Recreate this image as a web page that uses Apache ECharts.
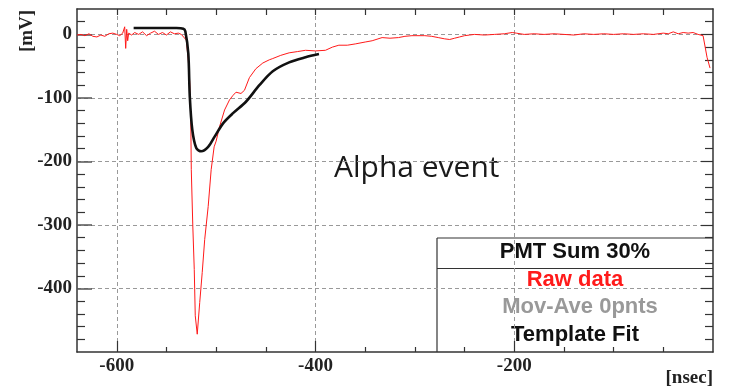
<!DOCTYPE html>
<html><head><meta charset="utf-8">
<script src="https://cdn.jsdelivr.net/npm/echarts@6/dist/echarts.min.js"></script>
<style>html,body{margin:0;padding:0;background:#fff}#c{width:730px;height:389px}</style>
</head><body><div id="c"></div>
<script>
// ---- data (time in nsec, amplitude in mV) ----
const rawX = [-640,-636,-632,-628,-624,-620,-616,-612,-608,-604,-600,-597,-594,-592,-591,-590,-589,-588,-585,-582,-578,-574,-570,-566,-562,-558,-554,-550,-546,-542,-538,-535,-533,-530,-528,-526.5,-525.5,-525,-523.5,-522,-521,-519,-516.5,-514,-511.5,-508,-505,-502,-500,-496.5,-491.5,-486.5,-483,-480,-475,-471.5,-466.5,-460,-453,-446.5,-443,-435,-426.5,-418,-410,-400,-390,-383,-376.5,-368,-360,-350,-343,-333,-325,-316.5,-310,-303,-290,-283,-276.5,-270,-265,-260,-255,-250,-245,-240,-230,-220,-210,-202,-198,-190,-180,-170,-160,-150,-140,-130,-120,-110,-100,-90,-80,-70,-60,-50,-45,-40,-35,-30,-25,-20,-15,-10,-6,-3,-2,-1];
const rawY = [-1,0,-2,1,-3,-4,-1,-3,1,2,0,-2,2,12,-22,8,-10,2,-1,3,0,4,-2,2,5,0,3,-1,4,1,2,0,1,-9,-41,-77,-135,-213,-300,-370,-443,-472,-422,-375,-323,-271,-213,-177,-168,-145,-119,-103,-96,-91,-93,-88,-68,-54,-45,-40,-38,-33,-29,-27,-25,-26,-25,-20,-17,-17,-15,-12,-10,-5,-6,-5,-3,-2,-2,-3,-5,-7,-8,-6,-4,-2,-1,0,-1,0,1,3,2,0,1,0,1,0,-1,1,0,1,0,1,0,1,0,2,1,4,1,3,2,3,0,-2,-36,-53];
const fitX = [-583,-560,-540,-533,-531,-528,-526.5,-524,-520,-515,-508,-501.5,-493,-483,-470,-456.5,-443,-426.5,-410,-396.5];
const fitY = [10,10,10,9,5,-30,-98,-150,-179,-184,-177,-161,-140,-124,-106,-80,-58,-44,-36,-31];
const xMajor = [-600,-400,-200];
const xMinor = [-550,-500,-450,-350,-300,-250,-150,-100,-50];
const yMajor = [-400,-300,-200,-100,0];
const yMinor = [-480,-460,-440,-420,-380,-360,-340,-320,-280,-260,-240,-220,-180,-160,-140,-120,-80,-60,-40,-20,20];
const legendTitle = 'PMT Sum 30%';
const legendItems = ['Raw data','Mov-Ave 0pnts','Template Fit'];
const xName = '[nsec]', yName = '[mV]', note = 'Alpha event';

const rawData = rawX.map((x,i)=>[x,rawY[i]]);
const fitData = fitX.map((x,i)=>[x,fitY[i]]);

const labelFont = {fontFamily:'Liberation Serif',fontWeight:'bold',fontSize:19,color:'#222'};
const lineCol = '#333';
const gridDash = {show:true,lineStyle:{color:'#999',type:[4,3],width:1}};
const gridRect = {left:77,right:17,top:9,bottom:37,containLabel:false};
function ax(base){return Object.assign({type:'value',min:-640,max:0},base);}
function ay(base){return Object.assign({type:'value',min:-500,max:40},base);}
function ticks(vals,len){return {show:true,inside:true,length:len,customValues:vals,lineStyle:{color:lineCol,width:1.2}};}
const noLine = {show:false,onZero:false}, noLab = {show:false}, noSplit = {show:false};
const frameLine = {show:true,onZero:false,lineStyle:{color:lineCol,width:1.5}};

const chart = echarts.init(document.getElementById('c'),null,{renderer:'canvas'});
chart.setOption({
  animation:false,
  backgroundColor:'#fff',
  grid:[Object.assign({},gridRect),Object.assign({},gridRect)],
  xAxis:[
    ax({gridIndex:0,position:'bottom',axisLine:frameLine,axisTick:ticks(xMajor,11),
      axisLabel:Object.assign({show:true,customValues:xMajor,margin:5},labelFont),splitLine:gridDash}),
    ax({gridIndex:0,position:'top',axisLine:frameLine,axisTick:ticks(xMajor.concat(xMinor),6),axisLabel:noLab,splitLine:noSplit}),
    ax({gridIndex:1,position:'bottom',axisLine:noLine,axisTick:ticks(xMinor,5),axisLabel:noLab,splitLine:noSplit})
  ],
  yAxis:[
    ay({gridIndex:0,position:'left',axisLine:frameLine,
      axisTick:{show:true,inside:true,length:15,customValues:yMajor,lineStyle:{color:'#555',width:1.5}},
      axisLabel:Object.assign({show:true,customValues:yMajor,margin:5},labelFont),splitLine:gridDash}),
    ay({gridIndex:0,position:'right',axisLine:frameLine,axisTick:ticks(yMajor,12),axisLabel:noLab,splitLine:noSplit}),
    ay({gridIndex:1,position:'left',axisLine:noLine,axisTick:ticks(yMinor,8),axisLabel:noLab,splitLine:noSplit}),
    ay({gridIndex:1,position:'right',axisLine:noLine,axisTick:ticks(yMinor,8),axisLabel:noLab,splitLine:noSplit})
  ],
  series:[
    {type:'line',name:legendItems[0],xAxisIndex:0,yAxisIndex:0,data:rawData,showSymbol:false,
      lineStyle:{color:'#ff1a1a',width:1},itemStyle:{color:'#ff1a1a'},z:3},
    {type:'line',name:legendItems[2],xAxisIndex:0,yAxisIndex:0,data:fitData,showSymbol:false,smooth:0.3,
      lineStyle:{color:'#111',width:2.6},itemStyle:{color:'#111'},z:4}
  ],
  graphic:[
    {type:'text',x:27,y:31,rotation:Math.PI/2,style:{text:yName,font:'bold 19px "Liberation Serif"',fill:'#222',align:'center',verticalAlign:'middle'}},
    {type:'text',x:713,y:378,style:{text:xName,font:'bold 19px "Liberation Serif"',fill:'#222',align:'right',verticalAlign:'middle'}},
    {type:'text',x:334,y:168,style:{text:note,font:'30px "Open Sans"',fill:'#1a1a1a',align:'left',verticalAlign:'middle'}},
    {type:'line',shape:{x1:437,y1:238,x2:713,y2:238},style:{stroke:'#333',lineWidth:1.2}},
    {type:'line',shape:{x1:437,y1:238,x2:437,y2:352},style:{stroke:'#333',lineWidth:1.2}},
    {type:'line',shape:{x1:437,y1:268.5,x2:713,y2:268.5},style:{stroke:'#333',lineWidth:1.2}},
    {type:'text',x:575,y:252,style:{text:legendTitle,font:'bold 22px "Liberation Sans"',fill:'#111',align:'center',verticalAlign:'middle'}},
    {type:'text',x:575,y:280,style:{text:legendItems[0],font:'bold 22px "Liberation Sans"',fill:'#ff1a1a',align:'center',verticalAlign:'middle'}},
    {type:'text',x:580,y:307,style:{text:legendItems[1],font:'bold 22px "Liberation Sans"',fill:'#999',align:'center',verticalAlign:'middle'}},
    {type:'text',x:575,y:335,style:{text:legendItems[2],font:'bold 22px "Liberation Sans"',fill:'#111',align:'center',verticalAlign:'middle'}}
  ]
});
</script></body></html>
